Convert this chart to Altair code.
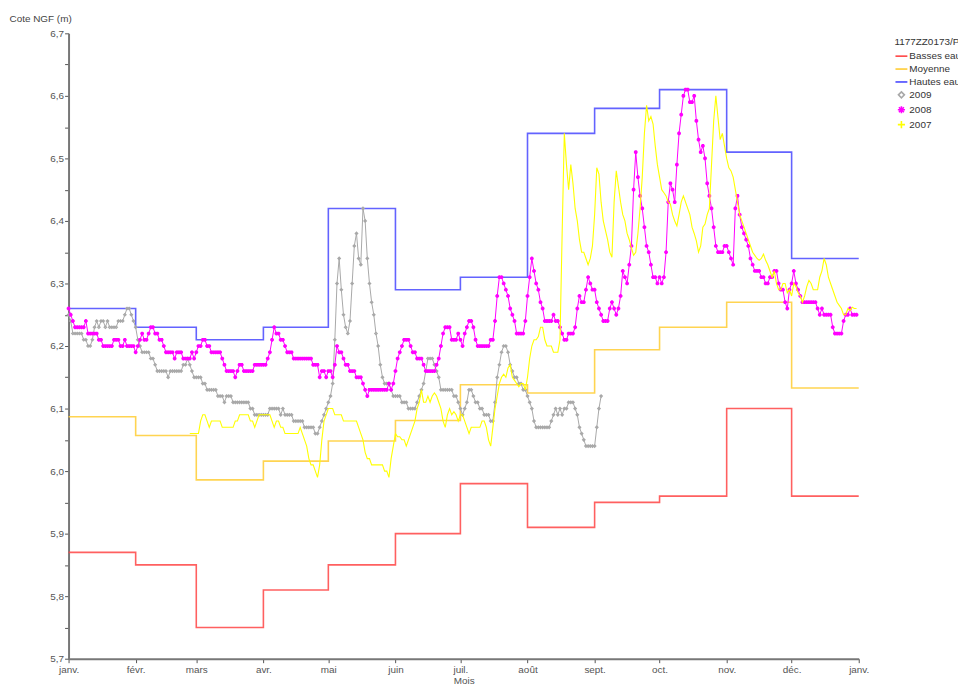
import altair as alt
import pandas as pd

# ---------------- data ----------------
month_start = [0, 31, 59, 90, 120, 151, 181, 212, 243, 273, 304, 334, 365]
month_labels = ["janv.", "févr.", "mars", "avr.", "mai", "juin", "juil.",
                "août", "sept.", "oct.", "nov.", "déc.", "janv."]

# monthly reference levels (one value per month)
basses_eaux = [5.87, 5.85, 5.75, 5.81, 5.85, 5.90, 5.98, 5.91, 5.95, 5.96, 6.10, 5.96]
moyenne = [6.087, 6.057, 5.986, 6.016, 6.048, 6.081, 6.138, 6.125, 6.194, 6.230, 6.270, 6.133]
hautes_eaux = [6.26, 6.23, 6.21, 6.23, 6.42, 6.29, 6.31, 6.54, 6.58, 6.61, 6.51, 6.34]

# daily levels, 2009 (from day 0)
y2009 = [6.25, 6.24, 6.22, 6.22, 6.22, 6.22, 6.22, 6.21, 6.21, 6.20,
         6.20, 6.21, 6.23, 6.24, 6.23, 6.24, 6.24, 6.23, 6.24, 6.23,
         6.23, 6.23, 6.23, 6.24, 6.24, 6.24, 6.25, 6.26, 6.26, 6.25,
         6.24, 6.23, 6.21, 6.20, 6.19, 6.19, 6.19, 6.19, 6.18, 6.18,
         6.17, 6.16, 6.16, 6.16, 6.16, 6.16, 6.15, 6.16, 6.16, 6.16,
         6.16, 6.16, 6.16, 6.17, 6.17, 6.18, 6.17, 6.16, 6.15, 6.15,
         6.15, 6.15, 6.14, 6.14, 6.13, 6.13, 6.13, 6.13, 6.13, 6.12,
         6.12, 6.12, 6.11, 6.12, 6.12, 6.12, 6.11, 6.11, 6.11, 6.11,
         6.11, 6.11, 6.11, 6.11, 6.10, 6.10, 6.09, 6.09, 6.09, 6.09,
         6.09, 6.09, 6.09, 6.10, 6.10, 6.10, 6.10, 6.10, 6.09, 6.10,
         6.09, 6.09, 6.09, 6.09, 6.08, 6.08, 6.08, 6.08, 6.08, 6.07,
         6.07, 6.07, 6.07, 6.07, 6.06, 6.06, 6.07, 6.08, 6.09, 6.10,
         6.11, 6.12, 6.14, 6.21, 6.30, 6.34, 6.29, 6.25, 6.23, 6.22,
         6.24, 6.30, 6.36, 6.38, 6.34, 6.33, 6.42, 6.40, 6.34, 6.30,
         6.27, 6.25, 6.22, 6.20, 6.17, 6.15, 6.14, 6.14, 6.14, 6.13,
         6.12, 6.12, 6.12, 6.12, 6.11, 6.11, 6.11, 6.10, 6.10, 6.10,
         6.10, 6.11, 6.12, 6.13, 6.14, 6.16, 6.18, 6.18, 6.18, 6.17,
         6.16, 6.15, 6.13, 6.13, 6.13, 6.13, 6.13, 6.13, 6.12, 6.12,
         6.11, 6.10, 6.09, 6.10, 6.11, 6.13, 6.13, 6.12, 6.11, 6.11,
         6.10, 6.10, 6.09, 6.09, 6.09, 6.08, 6.08, 6.11, 6.15, 6.17,
         6.19, 6.20, 6.20, 6.19, 6.17, 6.16, 6.15, 6.15, 6.14, 6.14,
         6.13, 6.13, 6.12, 6.11, 6.10, 6.08, 6.07, 6.07, 6.07, 6.07,
         6.07, 6.07, 6.07, 6.08, 6.09, 6.10, 6.09, 6.10, 6.09, 6.10,
         6.10, 6.11, 6.11, 6.11, 6.10, 6.09, 6.07, 6.06, 6.05, 6.04,
         6.04, 6.04, 6.04, 6.04, 6.07, 6.10, 6.12]

# daily levels, 2008 (from day 0)
y2008 = [6.26, 6.25, 6.24, 6.23, 6.23, 6.23, 6.23, 6.23, 6.24, 6.22,
         6.22, 6.22, 6.22, 6.22, 6.21, 6.21, 6.20, 6.20, 6.20, 6.20,
         6.20, 6.21, 6.21, 6.21, 6.20, 6.20, 6.21, 6.20, 6.20, 6.20,
         6.20, 6.19, 6.20, 6.21, 6.22, 6.21, 6.21, 6.22, 6.23, 6.23,
         6.22, 6.22, 6.21, 6.21, 6.20, 6.19, 6.19, 6.19, 6.19, 6.18,
         6.19, 6.19, 6.19, 6.18, 6.18, 6.18, 6.18, 6.19, 6.18, 6.19,
         6.20, 6.20, 6.21, 6.21, 6.20, 6.20, 6.19, 6.19, 6.19, 6.19,
         6.19, 6.18, 6.17, 6.16, 6.16, 6.16, 6.16, 6.15, 6.16, 6.17,
         6.17, 6.16, 6.16, 6.16, 6.16, 6.16, 6.17, 6.17, 6.17, 6.17,
         6.17, 6.17, 6.18, 6.19, 6.21, 6.23, 6.22, 6.22, 6.21, 6.21,
         6.20, 6.19, 6.19, 6.19, 6.18, 6.18, 6.18, 6.18, 6.18, 6.18,
         6.18, 6.18, 6.18, 6.17, 6.17, 6.17, 6.15, 6.16, 6.16, 6.15,
         6.16, 6.16, 6.15, 6.17, 6.20, 6.19, 6.19, 6.18, 6.17, 6.17,
         6.16, 6.16, 6.16, 6.15, 6.15, 6.15, 6.14, 6.13, 6.12, 6.13,
         6.13, 6.13, 6.13, 6.13, 6.13, 6.13, 6.13, 6.13, 6.14, 6.13,
         6.14, 6.16, 6.18, 6.19, 6.20, 6.21, 6.21, 6.21, 6.20, 6.19,
         6.19, 6.18, 6.18, 6.18, 6.17, 6.16, 6.16, 6.16, 6.16, 6.16,
         6.17, 6.18, 6.20, 6.22, 6.23, 6.23, 6.23, 6.21, 6.21, 6.21,
         6.22, 6.21, 6.20, 6.22, 6.23, 6.24, 6.24, 6.23, 6.21, 6.20,
         6.20, 6.20, 6.20, 6.20, 6.20, 6.21, 6.21, 6.24, 6.28, 6.31,
         6.31, 6.30, 6.29, 6.28, 6.26, 6.25, 6.24, 6.22, 6.22, 6.22,
         6.22, 6.24, 6.28, 6.31, 6.34, 6.32, 6.30, 6.29, 6.27, 6.26,
         6.24, 6.24, 6.24, 6.24, 6.25, 6.24, 6.24, 6.23, 6.22, 6.21,
         6.21, 6.22, 6.22, 6.22, 6.23, 6.26, 6.28, 6.27, 6.27, 6.29,
         6.31, 6.30, 6.29, 6.29, 6.27, 6.26, 6.25, 6.24, 6.24, 6.24,
         6.26, 6.27, 6.26, 6.25, 6.26, 6.28, 6.32, 6.31, 6.30, 6.33,
         6.36, 6.45, 6.51, 6.47, 6.44, 6.42, 6.39, 6.36, 6.35, 6.33,
         6.31, 6.31, 6.30, 6.31, 6.30, 6.31, 6.35, 6.43, 6.46, 6.45,
         6.43, 6.49, 6.54, 6.57, 6.60, 6.61, 6.61, 6.59, 6.59, 6.60,
         6.56, 6.53, 6.51, 6.52, 6.50, 6.46, 6.44, 6.42, 6.39, 6.36,
         6.35, 6.35, 6.35, 6.36, 6.36, 6.35, 6.34, 6.33, 6.42, 6.44,
         6.41, 6.39, 6.38, 6.37, 6.36, 6.34, 6.33, 6.32, 6.32, 6.32,
         6.31, 6.31, 6.30, 6.30, 6.31, 6.31, 6.32, 6.32, 6.30, 6.29,
         6.29, 6.27, 6.26, 6.29, 6.30, 6.32, 6.30, 6.29, 6.28, 6.27,
         6.27, 6.27, 6.27, 6.27, 6.27, 6.27, 6.26, 6.25, 6.26, 6.25,
         6.25, 6.25, 6.25, 6.23, 6.22, 6.22, 6.22, 6.22, 6.24, 6.25,
         6.25, 6.26, 6.25, 6.25, 6.25]

# daily levels, 2007 (from day 56)
start_2007 = 56
y2007 = [6.06, 6.06, 6.06, 6.06, 6.06, 6.08, 6.09, 6.09, 6.08, 6.07,
         6.08, 6.08, 6.08, 6.08, 6.08, 6.07, 6.07, 6.07, 6.07, 6.07,
         6.07, 6.08, 6.08, 6.09, 6.09, 6.09, 6.09, 6.09, 6.08, 6.08,
         6.07, 6.08, 6.09, 6.09, 6.09, 6.09, 6.09, 6.09, 6.08, 6.07,
         6.08, 6.08, 6.07, 6.07, 6.06, 6.06, 6.06, 6.06, 6.06, 6.06,
         6.06, 6.07, 6.06, 6.05, 6.04, 6.02, 6.01, 6.01, 6.00, 5.99,
         6.01, 6.05, 6.08, 6.09, 6.10, 6.10, 6.10, 6.09, 6.09, 6.09,
         6.09, 6.08, 6.08, 6.08, 6.08, 6.08, 6.08, 6.08, 6.07, 6.06,
         6.05, 6.03, 6.02, 6.02, 6.01, 6.01, 6.01, 6.01, 6.01, 6.01,
         6.00, 6.00, 5.99, 6.02, 6.04, 6.06, 6.055, 6.055, 6.05, 6.05,
         6.04, 6.05, 6.06, 6.07, 6.08, 6.10, 6.11, 6.13, 6.11, 6.11,
         6.12, 6.11, 6.12, 6.125, 6.12, 6.11, 6.10, 6.08, 6.07, 6.09,
         6.10, 6.09, 6.095, 6.09, 6.08, 6.09, 6.09, 6.08, 6.07, 6.06,
         6.07, 6.07, 6.07, 6.07, 6.07, 6.08, 6.08, 6.07, 6.05, 6.04,
         6.07, 6.10, 6.12, 6.14, 6.15, 6.155, 6.15, 6.165, 6.17, 6.15,
         6.145, 6.14, 6.135, 6.14, 6.14, 6.13, 6.15, 6.18, 6.20, 6.21,
         6.21, 6.215, 6.23, 6.23, 6.21, 6.20, 6.20, 6.20, 6.19, 6.19,
         6.19, 6.21, 6.38, 6.54, 6.49, 6.45, 6.49, 6.46, 6.42, 6.40,
         6.37, 6.35, 6.35, 6.34, 6.33, 6.34, 6.36, 6.41, 6.485, 6.475,
         6.43, 6.40, 6.385, 6.37, 6.35, 6.342, 6.43, 6.48, 6.455, 6.43,
         6.41, 6.40, 6.38, 6.37, 6.357, 6.345, 6.35, 6.38, 6.42, 6.47,
         6.54, 6.585, 6.56, 6.567, 6.555, 6.52, 6.49, 6.47, 6.45, 6.445,
         6.44, 6.43, 6.427, 6.41, 6.40, 6.392, 6.41, 6.43, 6.44, 6.43,
         6.42, 6.41, 6.39, 6.38, 6.368, 6.35, 6.36, 6.39, 6.395, 6.41,
         6.42, 6.49, 6.56, 6.60, 6.565, 6.53, 6.54, 6.52, 6.50, 6.485,
         6.48, 6.47, 6.45, 6.43, 6.41, 6.40, 6.39, 6.38, 6.37, 6.36,
         6.35, 6.345, 6.34, 6.337, 6.34, 6.347, 6.337, 6.33, 6.32, 6.31,
         6.32, 6.30, 6.29, 6.29, 6.30, 6.30, 6.285, 6.29, 6.28, 6.30,
         6.295, 6.285, 6.28, 6.27, 6.28, 6.295, 6.305, 6.30, 6.29, 6.29,
         6.29, 6.31, 6.32, 6.34, 6.33, 6.31, 6.30, 6.29, 6.28, 6.27,
         6.265, 6.26, 6.25, 6.25, 6.26, 6.257, 6.262, 6.26, 6.26]

series_names = ["Basses eaux", "Moyenne", "Hautes eaux", "2009", "2008", "2007"]
series_colors = ["#ff4444", "#ffcc33", "#4848ff", "#a8a8a8", "#ff00ff", "#ffff00"]
series_shapes = ["M-1,0L1,0", "M-1,0L1,0", "M-1,0L1,0",
                 "M0,-0.5L0.5,0L0,0.5L-0.5,0Z",
                 "M-0.6,0L0.6,0M0,-0.6L0,0.6M-0.42,-0.42L0.42,0.42M-0.42,0.42L0.42,-0.42",
                 "M-0.6,0L0.6,0M0,-0.6L0,0.6"]
COLOR = dict(zip(series_names, series_colors))

# ---------------- tables ----------------
def step_table(name, vals):
    days = month_start[:12] + [month_start[12]]
    return pd.DataFrame({"jour": days, "cote": list(vals) + [vals[-1]], "serie": name})


df_basses = step_table("Basses eaux", basses_eaux)
df_moy = step_table("Moyenne", moyenne)
df_hautes = step_table("Hautes eaux", hautes_eaux)
df09 = pd.DataFrame({"jour": list(range(len(y2009))), "cote": y2009, "serie": "2009"})
df08 = pd.DataFrame({"jour": list(range(len(y2008))), "cote": y2008, "serie": "2008"})
df07 = pd.DataFrame({"jour": [start_2007 + i for i in range(len(y2007))], "cote": y2007, "serie": "2007"})

# ---------------- encodings ----------------
FONT = "Liberation Sans"
labels_js = "[" + ",".join("'" + m + "'" for m in month_labels) + "]"
starts_js = "[" + ",".join(str(d) for d in month_start) + "]"

x_enc = alt.X("jour:Q",
              scale=alt.Scale(domain=[0, 365], nice=False, zero=False),
              axis=alt.Axis(values=month_start,
                            labelExpr=f"{labels_js}[indexof({starts_js}, datum.value)]",
                            title="Mois", grid=False, titlePadding=1,
                            titleFontWeight="normal", titleFontSize=10, titleColor="#555",
                            titleFont=FONT, labelFont=FONT, labelFontSize=10,
                            labelColor="#555", labelPadding=2,
                            domainColor="#777", domainWidth=2,
                            tickColor="#555", tickSize=4, labelFlush=False))

y_vals = [round(5.7 + 0.05 * i, 2) for i in range(21)]
y_enc = alt.Y("cote:Q",
              scale=alt.Scale(domain=[5.7, 6.7], nice=False, zero=False),
              axis=alt.Axis(values=y_vals,
                            labelExpr="abs(datum.value*10 - round(datum.value*10)) < 0.01 ? replace(format(datum.value, '.1f'), '.', ',') : ''",
                            title="Cote NGF (m)", titleAngle=0, titleAlign="left",
                            titleBaseline="middle", titleX=-60, titleY=-15,
                            titleFontWeight="normal", titleFontSize=10, titleColor="#444",
                            titleFont=FONT, grid=False, labelFont=FONT, labelFontSize=10,
                            labelColor="#555", labelPadding=1,
                            domainColor="#777", domainWidth=2,
                            tickColor="#555", tickSize=4))

color_scale = alt.Scale(domain=series_names, range=series_colors)
shape_scale = alt.Scale(domain=series_names, range=series_shapes)

legend = alt.Legend(title="1177ZZ0173/PZ", orient="none", legendX=832, legendY=4,
                    titleFont=FONT, titleFontSize=10, titleFontWeight="normal",
                    titleColor="#333", labelFont=FONT, labelFontSize=10,
                    labelColor="#333", symbolSize=144, symbolStrokeWidth=1.6,
                    symbolFillColor="#a8a8a8",
                    rowPadding=1, labelOffset=1, titlePadding=2, labelLimit=200)


def line_layer(df, name, width, interp=None, opacity=1.0):
    kw = {"strokeWidth": width, "opacity": opacity, "color": COLOR[name]}
    if interp:
        kw["interpolate"] = interp
    return alt.Chart(df).mark_line(**kw).encode(x=x_enc, y=y_enc)


def point_layer(df, size):
    return alt.Chart(df).mark_point(filled=False, strokeWidth=1.4, opacity=1).encode(
        x=x_enc, y=y_enc,
        color=alt.Color("serie:N", scale=color_scale, legend=legend),
        shape=alt.Shape("serie:N", scale=shape_scale, legend=legend),
        size=alt.value(size))


layers = [
    line_layer(df_basses, "Basses eaux", 1.6, interp="step-after", opacity=0.85),
    line_layer(df_moy, "Moyenne", 1.6, interp="step-after", opacity=0.85),
    line_layer(df_hautes, "Hautes eaux", 1.6, interp="step-after", opacity=0.85),
    line_layer(df09, "2009", 1),
    point_layer(df09, 20),
    line_layer(df08, "2008", 1),
    point_layer(df08, 40),
    line_layer(df07, "2007", 1.1),
]

chart = alt.layer(*layers).properties(
    width=796, height=630,
    padding={"left": 61, "top": 23, "right": 100, "bottom": 28},
    autosize=alt.AutoSizeParams(type="none"),
    background="white",
).configure_view(strokeWidth=0)

chart.save("out.html", embed_options={"renderer": "svg", "actions": False})
